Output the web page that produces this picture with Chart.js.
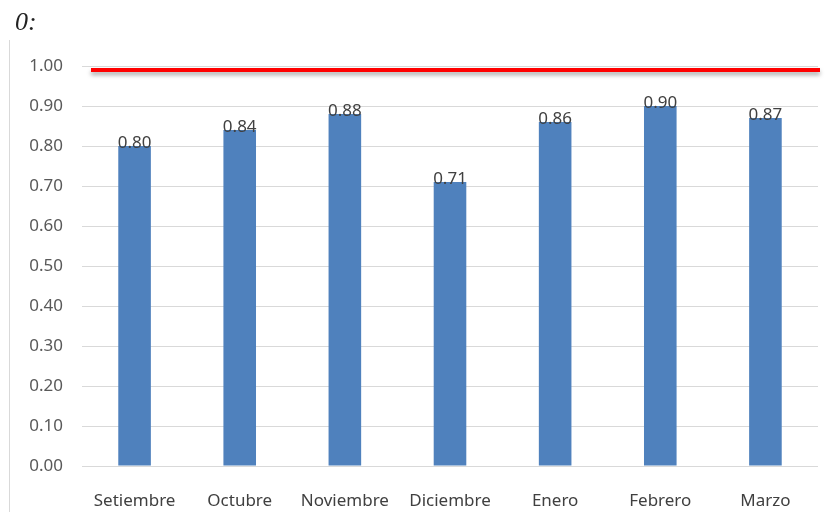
<!DOCTYPE html>
<html>
<head>
<meta charset="utf-8">
<script src="https://cdn.jsdelivr.net/npm/chart.js@4"></script>
<style>
  html, body { margin: 0; padding: 0; background: #fff; }
  #wrap { position: relative; width: 830px; height: 512px; }
  #titulo {
    position: absolute; left: 15px; top: 7px;
    font-family: "Liberation Serif", serif; font-style: italic; font-size: 26px; color: #222;
  }
  #borde {
    position: absolute; left: 9px; top: 40px; bottom: 0; width: 1px; background: #d9d9d9;
  }
</style>
</head>
<body>
<div id="wrap">
  <div id="titulo">0:</div>
  <div id="borde"></div>
  <canvas id="grafico" width="830" height="512"></canvas>
</div>
<script>
// Meses e indicadores mensuales
const meses = ['Setiembre', 'Octubre', 'Noviembre', 'Diciembre', 'Enero', 'Febrero', 'Marzo'];
const indicador = [0.80, 0.84, 0.88, 0.71, 0.86, 0.90, 0.87];
const meta = [0.99];
const ticksY = [0, 0.1, 0.2, 0.3, 0.4, 0.5, 0.6, 0.7, 0.8, 0.9, 1.0];

const fuente = '"Noto Sans", sans-serif';

// Linea roja de meta, de lado a lado del area
const lineaMeta = {
  id: 'lineaMeta',
  afterDatasetsDraw(chart) {
    const { ctx, chartArea, scales } = chart;
    const y = scales.y.getPixelForValue(meta[0]);
    ctx.save();
    ctx.shadowColor = 'rgba(0,0,0,0.35)';
    ctx.shadowBlur = 4;
    ctx.shadowOffsetY = 3;
    ctx.strokeStyle = '#ff0000';
    ctx.lineWidth = 4;
    ctx.beginPath();
    ctx.moveTo(chartArea.left + 9, y);
    ctx.lineTo(chartArea.right + 2, y);
    ctx.stroke();
    ctx.restore();
  }
};

// Etiquetas de valor sobre cada barra
const etiquetas = {
  id: 'etiquetas',
  afterDatasetsDraw(chart) {
    const { ctx } = chart;
    const barras = chart.getDatasetMeta(0);
    ctx.save();
    ctx.font = '17px ' + fuente;
    ctx.fillStyle = '#404040';
    ctx.textAlign = 'center';
    ctx.textBaseline = 'alphabetic';
    barras.data.forEach((bar, i) => {
      ctx.fillText(indicador[i].toFixed(2), bar.x, bar.y + 2);
    });
    ctx.restore();
  }
};

new Chart(document.getElementById('grafico'), {
  type: 'bar',
  data: {
    labels: meses,
    datasets: [{
      data: indicador,
      backgroundColor: '#4f81bd',
      barPercentage: 0.31,
      categoryPercentage: 1
    }]
  },
  options: {
    responsive: false,
    animation: false,
    layout: { padding: { left: 0, right: 12, top: 66, bottom: 0 } },
    plugins: {
      legend: { display: false },
      tooltip: { enabled: false }
    },
    scales: {
      x: {
        grid: { display: false },
        border: { display: false },
        ticks: { color: '#404040', font: { family: fuente, size: 17 }, padding: 17 },
        afterFit(scale) { scale.height = 46; }
      },
      y: {
        min: 0,
        max: 1,
        afterBuildTicks(scale) { scale.ticks = ticksY.map(v => ({ value: v })); },
        grid: { color: '#d9d9d9', drawTicks: false },
        border: { display: false },
        ticks: {
          color: '#595959',
          font: { family: fuente, size: 17 },
          padding: 19,
          callback: v => Number(v).toFixed(2)
        },
        afterFit(scale) { scale.width = 82; }
      }
    }
  },
  plugins: [lineaMeta, etiquetas]
});
</script>
</body>
</html>
